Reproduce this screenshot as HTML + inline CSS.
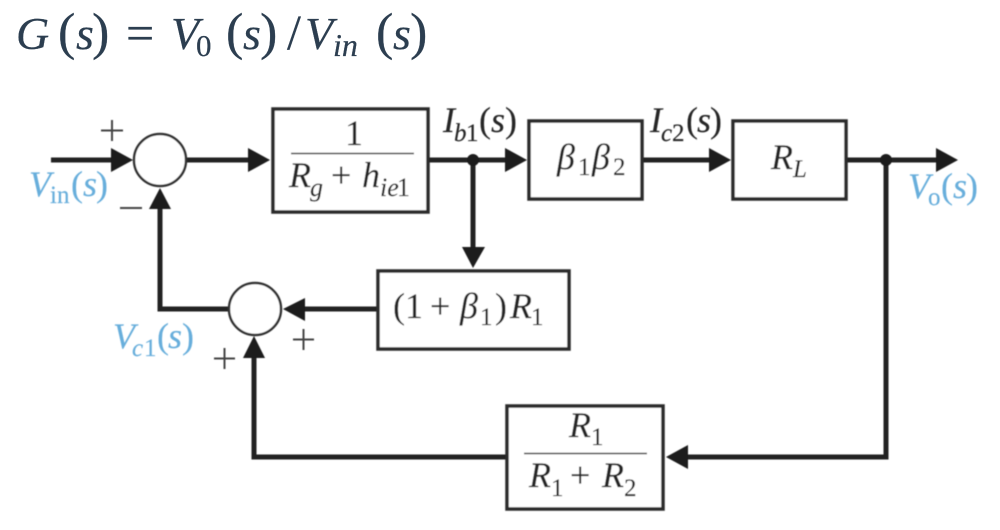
<!DOCTYPE html>
<html>
<head>
<meta charset="utf-8">
<style>
html,body{margin:0;padding:0;background:#fff;width:1000px;height:530px;overflow:hidden}
svg{display:block}
text{font-family:"Liberation Serif",serif;fill:#262626;stroke:#262626;stroke-width:.15}
.i{font-style:italic}
text.b{fill:#68aedb;stroke:#68aedb}
text.t{fill:#2c3e50;stroke:#2c3e50;stroke-width:.25}
</style>
</head>
<body>
<svg width="1000" height="530" viewBox="0 0 1000 530" xmlns="http://www.w3.org/2000/svg">
<defs><filter id="f" x="-5%" y="-5%" width="110%" height="110%"><feGaussianBlur stdDeviation="0.6"/></filter></defs>

<!-- title -->
<g>
<text x="16" y="49" class="i t" font-size="46">G</text>
<text x="58" y="49" class="t" font-size="52">(</text>
<text x="76" y="49" class="i t" font-size="46">s</text>
<text x="92" y="49" class="t" font-size="52">)</text>
<text x="126" y="50" class="t" font-size="50">=</text>
<text x="171" y="49" class="i t" font-size="46">V</text>
<text x="196" y="56" class="t" font-size="31">0</text>
<text x="226" y="49" class="t" font-size="52">(</text>
<text x="243" y="49" class="i t" font-size="46">s</text>
<text x="260" y="49" class="t" font-size="52">)</text>
<text x="287" y="49" class="t" font-size="50">/</text>
<text x="305" y="49" class="i t" font-size="46">V</text>
<text x="333" y="56" class="i t" font-size="32">in</text>
<text x="376" y="49" class="t" font-size="52">(</text>
<text x="393" y="49" class="i t" font-size="46">s</text>
<text x="410" y="49" class="t" font-size="52">)</text>
</g>

<g filter="url(#f)">
<!-- connectors -->
<g fill="none" stroke="#222" stroke-width="5">
<path d="M51 160H120"/>
<path d="M186 160H255"/>
<path d="M428 160H510"/>
<path d="M642 160H715"/>
<path d="M846 160H940"/>
<path d="M473 160V250"/>
<path d="M886 160V457H685"/>
<path d="M506 457H254V355"/>
<path d="M378 309H300"/>
<path d="M229 309H160V208"/>
</g>
<!-- arrowheads -->
<g fill="#1e1e1e">
<path d="M111 148L133 160L111 172Z"/>
<path d="M248 148L270 160L248 172Z"/>
<path d="M505 148L527 160L505 172Z"/>
<path d="M709 148L731 160L709 172Z"/>
<path d="M936 148L958 160L936 172Z"/>
<path d="M149 209L160 188L171 209Z"/>
<path d="M462 247L473 268L485 247Z"/>
<path d="M305 298L283 309L305 321Z"/>
<path d="M243 358L254 336L265 358Z"/>
<path d="M688 445L666 457L688 469Z"/>
<circle cx="473" cy="160" r="6"/>
<circle cx="886" cy="160" r="6"/>
</g>
<!-- summing junctions -->
<g fill="#fff" stroke="#333" stroke-width="2.5">
<circle cx="160" cy="160" r="26"/>
<circle cx="255" cy="309" r="26"/>
</g>
<!-- boxes -->
<g fill="#fff" stroke="#2a2a2a" stroke-width="3.5">
<rect x="273" y="109" width="155" height="103"/>
<rect x="529" y="121" width="113" height="78"/>
<rect x="733" y="121" width="113" height="78"/>
<rect x="378" y="271" width="191" height="78"/>
<rect x="507" y="406" width="156" height="103"/>
</g>
<!-- fraction bars -->
<path d="M291 153.500H414" stroke="#444" stroke-width="1.500" fill="none"/>
<path d="M524 453.500H647" stroke="#444" stroke-width="1.500" fill="none"/>

<!-- box labels -->
<text x="345" y="145" font-size="36">1</text>
<text x="289" y="187" class="i" font-size="36">R</text>
<text x="310" y="196" class="i" font-size="26">g</text>
<text x="331" y="187" font-size="36">+</text>
<text x="362" y="187" class="i" font-size="36">h</text>
<text x="380" y="196" class="i" font-size="26">ie</text>
<text x="397" y="196" font-size="26">1</text>

<text x="557" y="169" class="i" font-size="36">β</text>
<text x="578" y="175" font-size="25">1</text>
<text x="592" y="169" class="i" font-size="36">β</text>
<text x="613" y="175" font-size="25">2</text>

<text x="771" y="169" class="i" font-size="36">R</text>
<text x="793" y="177" class="i" font-size="25">L</text>

<text x="393" y="318" font-size="36">(</text>
<text x="405" y="318" font-size="36">1</text>
<text x="430" y="318" font-size="36">+</text>
<text x="460" y="318" class="i" font-size="36">β</text>
<text x="480" y="325" font-size="25">1</text>
<text x="495" y="318" font-size="36">)</text>
<text x="510" y="318" class="i" font-size="36">R</text>
<text x="531" y="325" font-size="25">1</text>

<text x="569" y="437" class="i" font-size="36">R</text>
<text x="591" y="445" font-size="25">1</text>
<text x="529" y="487" class="i" font-size="36">R</text>
<text x="551" y="496" font-size="25">1</text>
<text x="570" y="487" font-size="36">+</text>
<text x="602" y="487" class="i" font-size="36">R</text>
<text x="624" y="496" font-size="25">2</text>

<!-- signal labels -->
<text x="443" y="132" class="i" font-size="36">I</text>
<text x="454" y="141" class="i" font-size="25">b</text>
<text x="466" y="141" font-size="25">1</text>
<text x="479" y="132" font-size="36">(</text>
<text x="491" y="132" class="i" font-size="36">s</text>
<text x="505" y="132" font-size="36">)</text>

<text x="650" y="132" class="i" font-size="36">I</text>
<text x="661" y="141" class="i" font-size="25">c</text>
<text x="672" y="141" font-size="25">2</text>
<text x="686" y="132" font-size="36">(</text>
<text x="697" y="132" class="i" font-size="36">s</text>
<text x="710" y="132" font-size="36">)</text>

<text x="29" y="196" class="i b" font-size="36">V</text>
<text x="50" y="203" class="b" font-size="25">in</text>
<text x="71" y="196" class="b" font-size="36">(</text>
<text x="83" y="196" class="i b" font-size="36">s</text>
<text x="96" y="196" class="b" font-size="36">)</text>

<text x="908" y="198" class="i b" font-size="36">V</text>
<text x="928" y="205" class="b" font-size="25">o</text>
<text x="941" y="198" class="b" font-size="36">(</text>
<text x="953" y="198" class="i b" font-size="36">s</text>
<text x="966" y="198" class="b" font-size="36">)</text>

<text x="113" y="348" class="i b" font-size="36">V</text>
<text x="132" y="356" class="i b" font-size="25">c</text>
<text x="144" y="356" class="b" font-size="25">1</text>
<text x="157" y="348" class="b" font-size="36">(</text>
<text x="168" y="348" class="i b" font-size="36">s</text>
<text x="182" y="348" class="b" font-size="36">)</text>

<!-- signs -->
<path d="M101 130.500H123M112 120V141" stroke="#444" stroke-width="2" fill="none"/>
<path d="M120 208H142" stroke="#444" stroke-width="2" fill="none"/>
<path d="M293 339.500H314M303.500 329V350" stroke="#444" stroke-width="2" fill="none"/>
<path d="M214 358.500H235M224.500 348V369" stroke="#444" stroke-width="2" fill="none"/>
</g>
</svg>
</body>
</html>
